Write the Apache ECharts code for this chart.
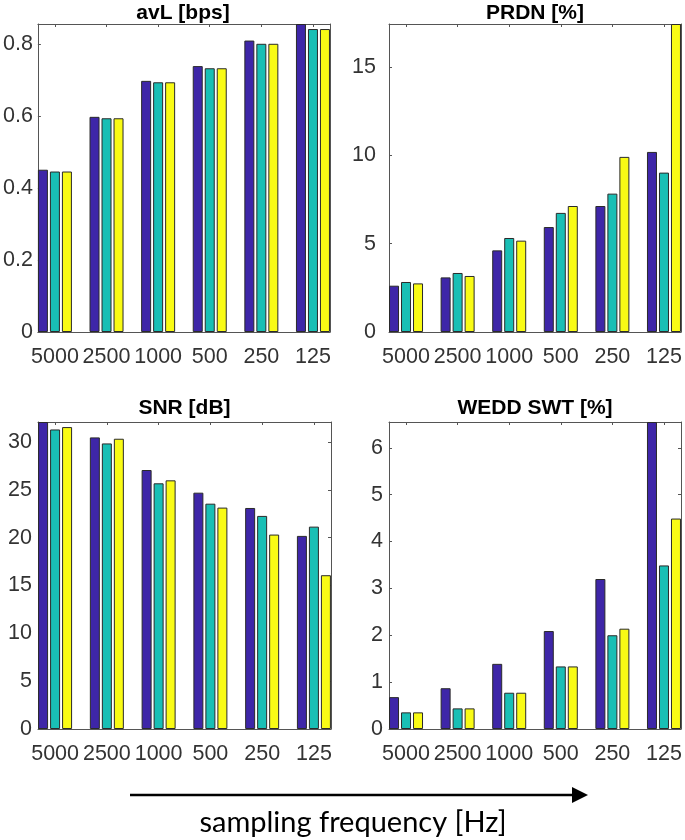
<!DOCTYPE html>
<html><head><meta charset="utf-8">
<script src="https://cdn.jsdelivr.net/npm/echarts@6/dist/echarts.min.js"></script>
<style>html,body{margin:0;padding:0;background:#fff}#c{width:685px;height:840px}</style>
</head><body><div id="c"></div>
<script>
// ---- data ----
const categories = ['5000', '2500', '1000', '500', '250', '125'];
const panelTitles = ['avL [bps]', 'PRDN [%]', 'SNR [dB]', 'WEDD SWT [%]'];
const yMax = [0.856, 17.43, 32.1, 6.55];
const yInterval = [0.2, 5, 5, 1];

const avL_s1 = [0.451, 0.598, 0.698, 0.739, 0.810, 0.856];
const avL_s2 = [0.446, 0.594, 0.694, 0.733, 0.801, 0.842];
const avL_s3 = [0.446, 0.594, 0.694, 0.733, 0.801, 0.842];

const prdn_s1 = [2.62, 3.09, 4.62, 5.94, 7.13, 10.19];
const prdn_s2 = [2.83, 3.34, 5.32, 6.74, 7.83, 9.02];
const prdn_s3 = [2.75, 3.17, 5.17, 7.13, 9.91, 17.43];

const snr_s1 = [32.1, 30.49, 27.08, 24.71, 23.11, 20.19];
const snr_s2 = [31.32, 29.86, 25.69, 23.56, 22.28, 21.16];
const snr_s3 = [31.57, 30.35, 26.0, 23.15, 20.33, 16.08];

const wedd_s1 = [0.68, 0.87, 1.39, 2.09, 3.20, 6.55];
const wedd_s2 = [0.355, 0.44, 0.774, 1.335, 2.0, 3.49];
const wedd_s3 = [0.355, 0.44, 0.774, 1.335, 2.14, 4.49];

const panelData = [
  [avL_s1, avL_s2, avL_s3],
  [prdn_s1, prdn_s2, prdn_s3],
  [snr_s1, snr_s2, snr_s3],
  [wedd_s1, wedd_s2, wedd_s3]
];

// ---- layout / style ----
const colors = ['#3E26A8', '#19BFB5', '#F9FB15'];
const grids = [
  { left: 36, top: 24, width: 294, height: 308 },
  { left: 389, top: 24, width: 292, height: 308 },
  { left: 38, top: 422, width: 293, height: 307 },
  { left: 389, top: 422, width: 292, height: 307 }
];
const yLabelMargin = [5, 13, 6, 6];
const titleTop = [3, 398];
const axisColor = '#555';
const labelColor = '#333';
const FONT = '"Liberation Sans", Arial, Helvetica, sans-serif';
const xIdx = categories.map((c, i) => i + 1);

const option = {
  animation: false,
  backgroundColor: '#fff',
  title: [], grid: [], xAxis: [], yAxis: [], series: [],
  graphic: [
    { type: 'line', shape: { x1: 130, y1: 795, x2: 574, y2: 795 }, style: { stroke: '#000', lineWidth: 2.6 } },
    { type: 'polygon', shape: { points: [[572, 787], [588, 795], [572, 803]] }, style: { fill: '#000' } },
    { type: 'text', x: 353, y: 823, style: { text: 'sampling frequency [Hz]', fill: '#000', font: '29px Lato, "Open Sans", sans-serif', textAlign: 'center', textVerticalAlign: 'middle' } }
  ]
};

grids.forEach((g, p) => {
  option.grid.push(Object.assign({ containLabel: false }, g));
  option.title.push({
    text: panelTitles[p],
    left: g.left + g.width / 2,
    top: titleTop[p < 2 ? 0 : 1],
    textAlign: 'center',
    padding: 0,
    textStyle: { fontFamily: FONT, fontWeight: 'bold', fontSize: 21, color: '#000' }
  });
  const xBase = {
    type: 'value', gridIndex: p, min: 0.67, max: 6.33,
    splitLine: { show: false },
    axisLine: { show: true, onZero: false, lineStyle: { color: axisColor, width: 1 } },
    axisTick: { show: true, inside: true, length: 3, customValues: xIdx, lineStyle: { color: axisColor } }
  };
  option.xAxis.push(Object.assign({}, xBase, {
    position: 'bottom',
    axisLabel: {
      show: true, customValues: xIdx, margin: 14,
      fontFamily: FONT, fontSize: 21.5, color: labelColor,
      formatter: v => categories[Math.round(v) - 1] || ''
    }
  }));
  option.xAxis.push(Object.assign({}, xBase, { position: 'top', axisLabel: { show: false } }));
  const yBase = {
    type: 'value', gridIndex: p, min: 0, max: yMax[p], interval: yInterval[p],
    splitLine: { show: false },
    axisLine: { show: true, lineStyle: { color: axisColor, width: 1 } },
    axisTick: { show: true, inside: true, length: 3, lineStyle: { color: axisColor } }
  };
  option.yAxis.push(Object.assign({}, yBase, {
    position: 'left',
    axisLabel: { show: true, margin: yLabelMargin[p], showMaxLabel: false, fontFamily: FONT, fontSize: 21.5, color: labelColor }
  }));
  option.yAxis.push(Object.assign({}, yBase, { position: 'right', axisLabel: { show: false } }));

  panelData[p].forEach((vals, s) => {
    option.series.push({
      type: 'bar',
      name: 'S' + (s + 1),
      xAxisIndex: p * 2,
      yAxisIndex: p * 2,
      barWidth: 10,
      barGap: '20%',
      data: vals.map((v, i) => [xIdx[i], v]),
      itemStyle: { color: colors[s], borderColor: '#2a2a2a', borderWidth: 1 }
    });
  });
});

const chart = echarts.init(document.getElementById('c'), null, { renderer: 'canvas' });
chart.setOption(option);
</script>
</body></html>
